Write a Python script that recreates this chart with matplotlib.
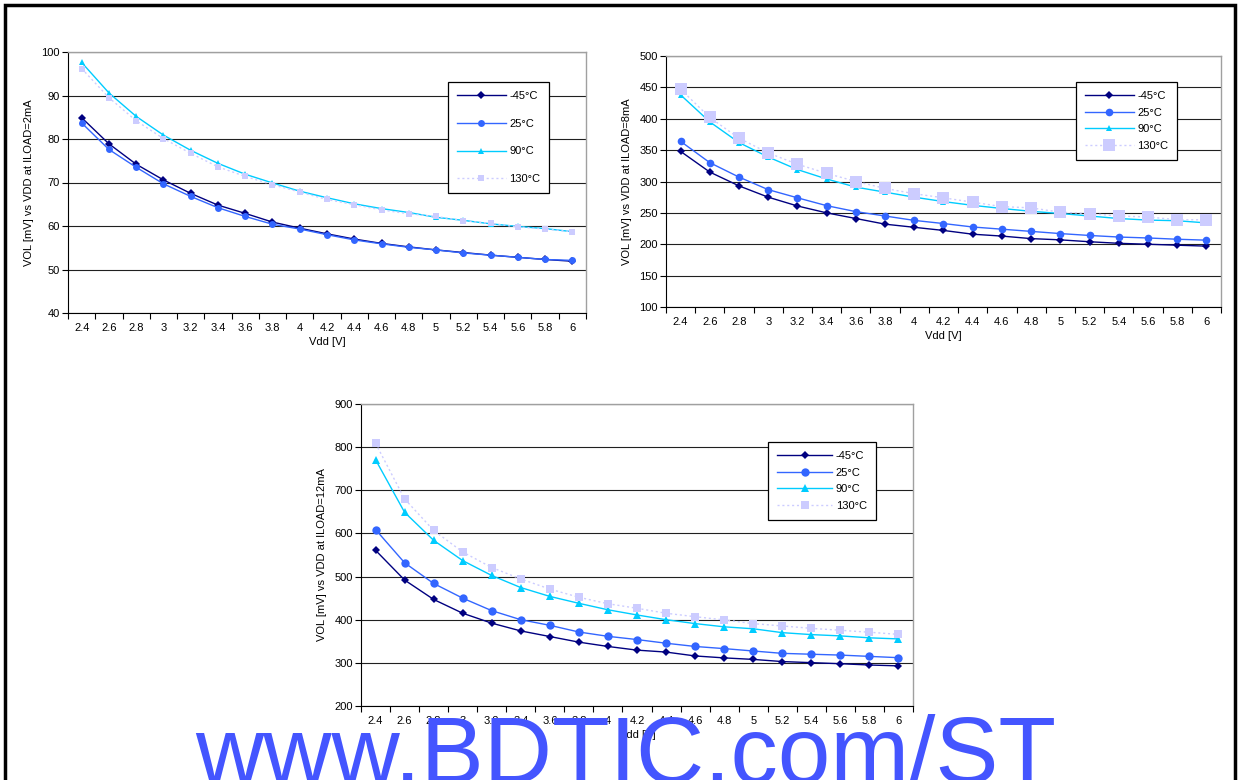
import numpy as np
import matplotlib
matplotlib.use("Agg")
import matplotlib.pyplot as plt
from matplotlib.patches import Rectangle

plt.rcParams['font.family'] = ['Liberation Sans', 'DejaVu Sans']

vdd = ['2.4', '2.6', '2.8', '3', '3.2', '3.4', '3.6', '3.8', '4', '4.2',
       '4.4', '4.6', '4.8', '5', '5.2', '5.4', '5.6', '5.8', '6']
temps = ['-45°C', '25°C', '90°C', '130°C']

# VOL at ILOAD = 2mA
vol_2ma_m45 = [84.9, 78.9, 74.2, 70.6, 67.5, 64.8, 62.9, 60.9, 59.5, 58.2,
               57.0, 56.0, 55.2, 54.5, 53.9, 53.3, 52.8, 52.3, 51.9]
vol_2ma_25 = [83.7, 77.6, 73.5, 69.7, 66.8, 64.2, 62.2, 60.4, 59.3, 58.0,
              56.8, 55.9, 55.1, 54.5, 53.8, 53.3, 52.8, 52.3, 52.1]
vol_2ma_90 = [97.6, 90.6, 85.2, 80.9, 77.4, 74.4, 71.9, 69.9, 68.0, 66.5,
              65.1, 64.0, 63.1, 62.0, 61.3, 60.5, 59.9, 59.4, 58.7]
vol_2ma_130 = [96.2, 89.5, 84.2, 80.1, 76.7, 73.6, 71.4, 69.5, 67.8, 66.1,
               64.9, 63.7, 62.8, 62.2, 61.2, 60.6, 59.8, 59.3, 58.7]

# VOL at ILOAD = 8mA
vol_8ma_m45 = [348, 315, 293, 275, 261, 250, 241, 232, 227, 222,
               216, 213, 209, 207, 204, 201.5, 200, 198.5, 197]
vol_8ma_25 = [364, 330, 307, 287, 274, 261.5, 252, 245, 238, 233,
              227.5, 224, 220.5, 217, 214, 211.5, 210, 208, 206.5]
vol_8ma_90 = [438, 395, 362, 339, 319, 304, 291, 283, 275, 268,
              262, 257, 252.5, 249, 245, 241, 238.5, 237.5, 234]
vol_8ma_130 = [447, 402, 369, 345.5, 327.5, 313, 300, 289, 280.5, 274,
               267, 260, 258, 251, 249, 245, 243.5, 239, 239]

# VOL at ILOAD = 12mA
vol_12ma_m45 = [561, 492, 447, 415, 392, 374, 361, 348, 338, 329.5,
                325, 316, 311.5, 308, 303, 300.5, 298, 295, 293]
vol_12ma_25 = [609, 532, 484, 450, 421, 400, 387, 371.5, 361.5, 354,
               345.5, 338, 333, 327.5, 322, 320, 318, 315, 312]
vol_12ma_90 = [771, 649, 584, 537, 502.5, 474.5, 454, 438, 423, 411,
               400, 391, 383.5, 379, 370, 365.5, 362.5, 358, 355.5]
vol_12ma_130 = [809, 680, 607, 557, 521, 494.5, 471, 452, 437, 426.5,
                415, 407, 399.5, 391, 385.5, 380, 375.5, 371, 366]

W, H = 1239, 780
fig = plt.figure(figsize=(W / 100, H / 100), dpi=100)

# outer frame
fig.patches.append(Rectangle((5 / W, -0.05), 1230 / W, 1.05 - 5 / H,
                             transform=fig.transFigure, fill=False,
                             edgecolor='black', linewidth=2.5))

styles = [dict(color='#000080', marker='D', ls='-'),
          dict(color='#3366FF', marker='o', ls='-'),
          dict(color='#00CCFF', marker='^', ls='-'),
          dict(color='#CCCCFF', marker='s', ls=':')]


def px_rect(left, top, right, bottom):
    return [left / W, 1 - bottom / H, (right - left) / W, (bottom - top) / H]


def draw_chart(rect, series, ylim, ystep, ylabel, msizes, leg_pos, leg_space,
               leg_hlen):
    ax = fig.add_axes(px_rect(*rect))
    x = np.arange(len(vdd))
    lines = []
    for vals, st, ms, lab in zip(series, styles, msizes, temps):
        ln, = ax.plot(x, vals, color=st['color'], marker=st['marker'],
                      linestyle=st['ls'], linewidth=1.0, markersize=ms,
                      markeredgewidth=0, label=lab,
                      dashes=(1.5, 2) if st['ls'] == ':' else (None, None))
        lines.append(ln)
    ax.set_xlim(-0.5, len(vdd) - 0.5)
    ax.set_ylim(*ylim)
    ax.set_yticks(np.arange(ylim[0], ylim[1] + 1, ystep))
    # tick marks between categories, labels centred on categories
    ax.set_xticks(np.arange(-0.5, len(vdd), 1.0))
    ax.set_xticklabels([])
    ax.set_xticks(x, minor=True)
    ax.set_xticklabels(vdd, minor=True)
    ax.tick_params(axis='x', which='major', direction='out', length=4,
                   width=0.8, color='black')
    ax.tick_params(axis='x', which='minor', length=0, pad=7, labelsize=8)
    ax.tick_params(axis='y', direction='out', length=4, width=0.8,
                   labelsize=8, pad=2)
    ax.yaxis.grid(True, color='#202020', linewidth=0.8)
    ax.set_axisbelow(True)
    for s in ['top', 'right']:
        ax.spines[s].set_color('#A0A0A0')
        ax.spines[s].set_linewidth(1.0)
    for s in ['left', 'bottom']:
        ax.spines[s].set_color('black')
        ax.spines[s].set_linewidth(0.8)
    ax.set_xlabel('Vdd [V]', fontsize=8, labelpad=3)
    ax.set_ylabel(ylabel, fontsize=8, labelpad=5)
    leg = fig.legend(handles=lines, loc='upper left',
                     bbox_to_anchor=(leg_pos[0] / W, 1 - leg_pos[1] / H),
                     fontsize=8, frameon=True, fancybox=False,
                     edgecolor='black', framealpha=1, handlelength=leg_hlen,
                     handletextpad=0.3, labelspacing=leg_space,
                     borderpad=0.8, borderaxespad=0)
    leg.get_frame().set_linewidth(0.9)
    return ax


draw_chart((68, 52, 586, 313),
           [vol_2ma_m45, vol_2ma_25, vol_2ma_90, vol_2ma_130],
           (40, 100), 10, 'VOL [mV] vs VDD at ILOAD=2mA',
           [4, 5, 5, 5], (448, 82), 1.6, 4.4)
draw_chart((666, 56, 1221, 307),
           [vol_8ma_m45, vol_8ma_25, vol_8ma_90, vol_8ma_130],
           (100, 500), 50, 'VOL [mV] vs VDD at ILOAD=8mA',
           [4.5, 5.5, 5, 8], (1076, 82), 0.6, 4.4)
draw_chart((361, 404, 913, 706),
           [vol_12ma_m45, vol_12ma_25, vol_12ma_90, vol_12ma_130],
           (200, 900), 100, 'VOL [mV] vs VDD at ILOAD=12mA',
           [4.5, 6, 5.5, 6], (768, 442), 0.6, 5.0)

fig.text(195 / W, 1 - 783 / H, 'www.BDTIC.com/ST', color='#4455FF',
         fontsize=68, ha='left', va='baseline')

fig.savefig('out.png', dpi=100)
